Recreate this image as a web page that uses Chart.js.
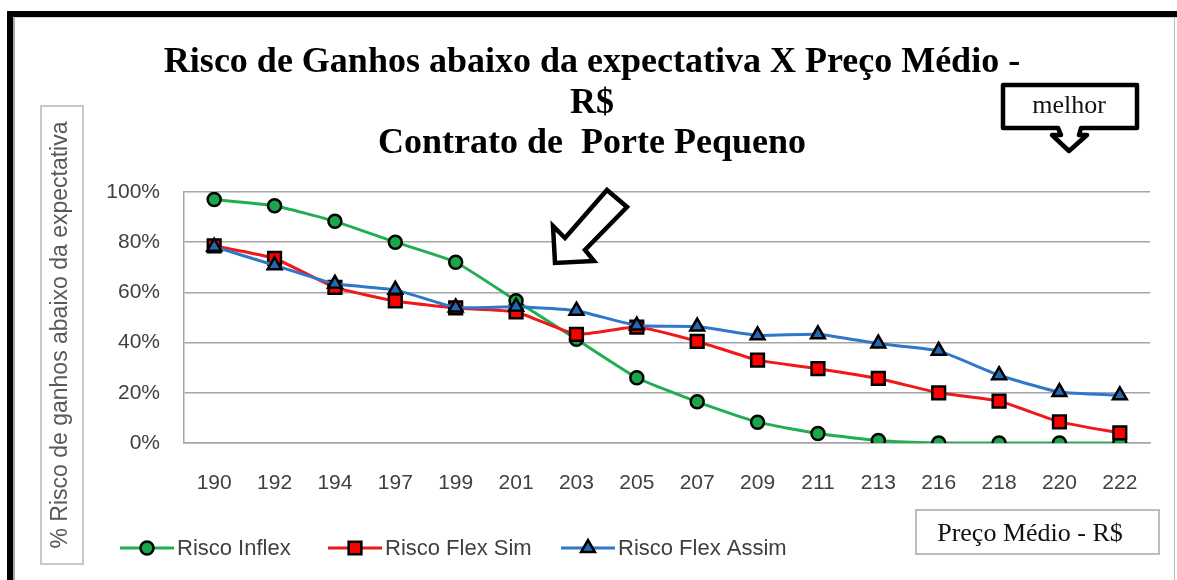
<!DOCTYPE html>
<html><head><meta charset="utf-8">
<script src="https://cdn.jsdelivr.net/npm/chart.js@4.4.0/dist/chart.umd.min.js"></script>
<style>
html,body{margin:0;padding:0;background:#fff;}
#wrap{position:relative;width:1177px;height:580px;overflow:hidden;background:#fff;}
#c{position:absolute;left:0;top:0;}
.f{position:absolute;z-index:2;}
</style></head>
<body>
<div id="wrap">
<canvas id="c" width="1177" height="580"></canvas>
<div class="f" style="left:7px;top:11px;width:6px;height:569px;background:#000"></div>
<div class="f" style="left:7px;top:11px;width:1170px;height:6px;background:#000"></div>
<div class="f" style="left:13px;top:17px;width:2px;height:563px;background:#a8a8a8"></div>
<div class="f" style="left:13px;top:17px;width:1164px;height:1px;background:#cfcfcf"></div>
<div class="f" style="left:1174px;top:17px;width:1px;height:563px;background:#bdbdbd"></div>
</div>
<script>
const categories = ['190','192','194','197','199','201','203','205','207','209','211','213','216','218','220','222'];
const riscoInflex    = [97, 94.5, 88.3, 80, 72, 56.7, 41.3, 26, 16.4, 8.3, 3.8, 1, 0, 0, 0, 0];
const riscoFlexSim   = [78.5, 73.5, 62, 56.6, 53.8, 52.2, 43.3, 46.2, 40.5, 33, 29.6, 25.7, 20, 16.7, 8.4, 4];
const riscoFlexAssim = [78.2, 70.8, 63.4, 61, 54, 54.3, 52.7, 46.8, 46.4, 42.9, 43.3, 39.6, 36.7, 27, 20.3, 19];
const seriesNames = ['Risco Inflex', 'Risco Flex Sim', 'Risco Flex Assim'];
const yTickValues = [0, 20, 40, 60, 80, 100];
const titleLines = ['Risco de Ganhos abaixo da expectativa X Preço Médio -', 'R$', 'Contrato de  Porte Pequeno'];
const yAxisLabel = '% Risco de ganhos abaixo da expectativa';
const xAxisLabel = 'Preço Médio - R$';
const noteLabel = 'melhor';

const styles = [
  {line:'#1fae52', fill:'#1aa64a', shape:'circle', r:6.5},
  {line:'#f01818', fill:'#ff0000', shape:'rect', r:9},
  {line:'#2f77c8', fill:'#2468b3', shape:'triangle', r:8}
];
const seriesData = [riscoInflex, riscoFlexSim, riscoFlexAssim];

const datasets = seriesData.map((d, i) => ({
  label: seriesNames[i],
  data: d,
  borderColor: styles[i].line,
  backgroundColor: styles[i].fill,
  borderWidth: 3,
  pointStyle: styles[i].shape,
  pointRadius: styles[i].r,
  pointBorderColor: '#000',
  pointBorderWidth: 2.5,
  pointBackgroundColor: styles[i].fill,
  tension: 0.15,
  order: 3 - i
}));

const decor = {
  id: 'decor',
  afterDraw(chart) {
    const ctx = chart.ctx;
    ctx.save();
    // y-axis label box
    ctx.strokeStyle = '#c8c8c8';
    ctx.lineWidth = 2;
    ctx.strokeRect(41, 106, 42, 458);
    ctx.translate(61, 335);
    ctx.rotate(-Math.PI/2);
    ctx.fillStyle = '#595959';
    ctx.font = '23px "Liberation Sans", Arial, sans-serif';
    ctx.textAlign = 'center';
    ctx.textBaseline = 'middle';
    ctx.fillText(yAxisLabel, 0, 0);
    ctx.restore();

    // x-axis label box
    ctx.save();
    ctx.strokeStyle = '#bdbdbd';
    ctx.lineWidth = 2;
    ctx.strokeRect(916, 510, 243, 44);
    ctx.fillStyle = '#111';
    ctx.font = '26px "Liberation Serif", "Times New Roman", serif';
    ctx.textAlign = 'center';
    ctx.textBaseline = 'middle';
    ctx.fillText(xAxisLabel, 1030, 534);
    ctx.restore();

    // legend
    ctx.save();
    const legX = [120, 328, 561];
    const y = 548;
    ctx.font = '22px "Liberation Sans", Arial, sans-serif';
    ctx.textBaseline = 'middle';
    ctx.textAlign = 'left';
    seriesNames.forEach((name, i) => {
      const s = styles[i];
      ctx.strokeStyle = s.line;
      ctx.lineWidth = 3;
      ctx.beginPath();
      ctx.moveTo(legX[i], y);
      ctx.lineTo(legX[i] + 54, y);
      ctx.stroke();
      ctx.fillStyle = s.fill;
      ctx.strokeStyle = '#000';
      ctx.lineWidth = 2.5;
      Chart.helpers.drawPoint(ctx, {pointStyle: s.shape, radius: s.r, rotation: 0, borderWidth: 2.5}, legX[i] + 27, y);
      ctx.fillStyle = '#404040';
      ctx.fillText(name, legX[i] + 57, y + 1);
    });
    ctx.restore();

    // big hollow arrow
    ctx.save();
    ctx.lineJoin = 'miter';
    ctx.lineWidth = 4.5;
    ctx.strokeStyle = '#000';
    ctx.fillStyle = '#fff';
    const pts = [[607,190],[627,207],[585,250],[594,261],[555,263],[553,226],[565,238]];
    ctx.beginPath();
    pts.forEach((p, k) => k ? ctx.lineTo(p[0], p[1]) : ctx.moveTo(p[0], p[1]));
    ctx.closePath();
    ctx.fill();
    ctx.stroke();
    ctx.restore();

    // 'melhor' callout
    ctx.save();
    ctx.lineWidth = 4.5;
    ctx.strokeStyle = '#000';
    ctx.fillStyle = '#fff';
    ctx.lineJoin = 'round';
    const c = [[1003,85],[1137,85],[1137,128],[1081,128],[1079,135],[1087,135],[1069,151],[1052,135],[1061,135],[1058,128],[1003,128]];
    ctx.beginPath();
    c.forEach((p, k) => k ? ctx.lineTo(p[0], p[1]) : ctx.moveTo(p[0], p[1]));
    ctx.closePath();
    ctx.fill();
    ctx.stroke();
    ctx.fillStyle = '#111';
    ctx.font = '26px "Liberation Serif", "Times New Roman", serif';
    ctx.textAlign = 'center';
    ctx.textBaseline = 'middle';
    ctx.fillText(noteLabel, 1069, 106);
    ctx.restore();
  }
};

new Chart(document.getElementById('c'), {
  type: 'line',
  data: { labels: categories, datasets },
  plugins: [decor],
  options: {
    responsive: false,
    animation: false,
    layout: { padding: { left: 34, right: 27, top: 0, bottom: 0 } },
    plugins: {
      legend: { display: false },
      tooltip: { enabled: false },
      title: {
        display: true,
        text: titleLines,
        color: '#000',
        font: { family: '"Liberation Serif", "Times New Roman", serif', size: 36, weight: 'bold', lineHeight: 1.12 },
        padding: { top: 43, bottom: 28 }
      }
    },
    scales: {
      x: {
        offset: true,
        grid: { display: false, drawTicks: false },
        border: { display: true, color: '#a6a6a6', width: 1.5 },
        ticks: { color: '#404040', font: { family: '"Liberation Sans", Arial, sans-serif', size: 21 }, padding: 28, maxRotation: 0, autoSkip: false },
        afterFit(s) { s.height = 137; }
      },
      y: {
        min: 0, max: 100,
        afterBuildTicks(s) { s.ticks = yTickValues.map(v => ({ value: v })); },
        grid: { color: '#a6a6a6', lineWidth: 1.5, drawTicks: false },
        border: { display: true, color: '#a6a6a6', width: 1.5 },
        ticks: { color: '#404040', font: { family: '"Liberation Sans", Arial, sans-serif', size: 21 }, padding: 24, callback: v => v + '%' },
        afterFit(s) { s.width = 150; }
      }
    }
  }
});
</script>
</body></html>
